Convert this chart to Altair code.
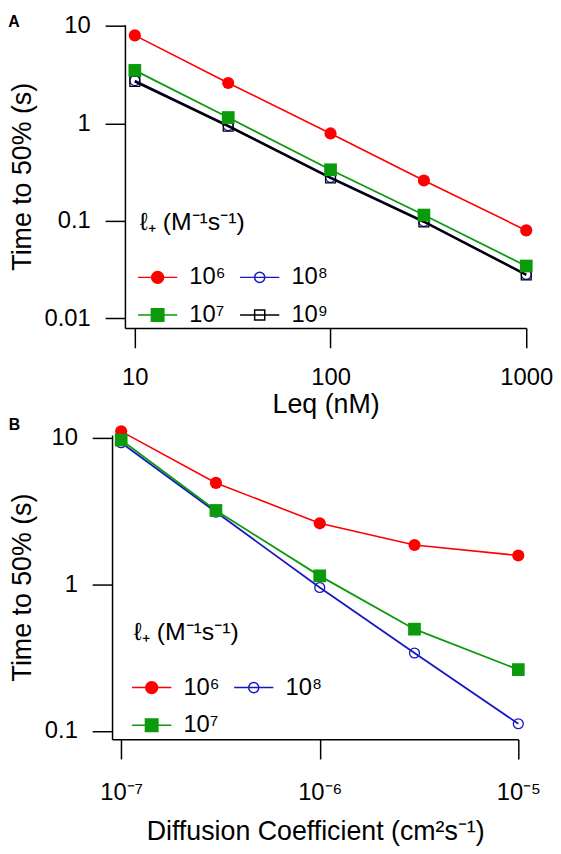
import altair as alt
import pandas as pd

FONT = "Liberation Sans"

# ---------------- series styling (by rate constant) ----------------
SERIES = ["10⁶", "10⁷", "10⁸", "10⁹"]
COLORS = ["#FF0000", "#0B9A0B", "#1717C4", "#000000"]
OPEN = [False, False, True, True]
SHAPES = ["circle", "square", "circle", "square"]
SIZES = [150, 165, 100, 100]
LINE_WIDTHS = [1.6, 1.8, 1.8, 2.4]
DRAW_ORDER = ["10⁶", "10⁸", "10⁹", "10⁷"]
LEGEND_TITLE = "ℓ₊ (M⁻¹s⁻¹)"

# ---------------- panel A data ----------------
A_LEQ = [10, 30, 100, 300, 1000]
A_T_E6 = [8.0, 2.6, 0.79, 0.26, 0.080]
A_T_E7 = [3.5, 1.15, 0.335, 0.115, 0.0345]
A_T_E8 = [2.75, 0.95, 0.28, 0.099, 0.0283]
A_T_E9 = [2.7, 0.94, 0.276, 0.098, 0.0280]
A_XTICKS = [10, 100, 1000]
A_YTICKS = [0.01, 0.1, 1, 10]
A_LEGEND_ORDER = ["10⁶", "10⁷", "10⁸", "10⁹"]

# ---------------- panel B data ----------------
B_D = [1e-7, 3e-7, 1e-6, 3e-6, 1e-5]
B_T_E6 = [11.0, 4.9, 2.6, 1.85, 1.57]
B_T_E7 = [9.6, 3.18, 1.14, 0.494, 0.262]
B_T_E8 = [9.2, 3.1, 0.95, 0.34, 0.112]
B_XTICKS = [1e-7, 1e-6, 1e-5]
B_XTICK_LABELS = ["10⁻⁷", "10⁻⁶", "10⁻⁵"]
B_YTICKS = [0.1, 1, 10]
B_LEGEND_ORDER = ["10⁶", "10⁷", "10⁸"]

# legend glyphs: marker with a line through it (unit-square coordinates)
LEGEND_PATHS = {
    "10⁶": "M-3.3,0H3.3M1,0A1,1 0 1,1 -1,0A1,1 0 1,1 1,0Z",
    "10⁷": "M-3.3,0H3.3M-1.05,-1.05H1.05V1.05H-1.05Z",
    "10⁸": "M-3.3,0H3.3M0.85,0A0.85,0.85 0 1,1 -0.85,0A0.85,0.85 0 1,1 0.85,0Z",
    "10⁹": "M-3.3,0H3.3M-0.85,-0.85H0.85V0.85H-0.85Z",
}


def make_df(xs, series_dict):
    rows = []
    for s, ys in series_dict.items():
        for x, y in zip(xs, ys):
            rows.append({"x": x, "t": y, "series": s})
    return pd.DataFrame(rows)


def panel(df, series_list, legend_order, X, Y, width, height, legend_x, legend_y,
          label, label_offset):
    layers = []
    for s in DRAW_ORDER:
        if s not in series_list:
            continue
        i = SERIES.index(s)
        base = alt.Chart(df).transform_filter(alt.datum.series == s)
        line = base.mark_line(color=COLORS[i], strokeWidth=LINE_WIDTHS[i], clip=False).encode(x=X, y=Y)
        if OPEN[i]:
            pts = base.mark_point(shape=SHAPES[i], size=SIZES[i], filled=False, color=COLORS[i],
                                  strokeWidth=1.3, opacity=1, clip=False).encode(x=X, y=Y)
        else:
            pts = base.mark_point(shape=SHAPES[i], size=SIZES[i], filled=True, color=COLORS[i],
                                  opacity=1, clip=False).encode(x=X, y=Y)
        layers += [line, pts]

    leg = alt.Legend(
        title=LEGEND_TITLE, orient="none", legendX=legend_x, legendY=legend_y, columns=2,
        titleFont=FONT, titleFontSize=25, titleFontWeight="normal", titleColor="black",
        labelFont=FONT, labelFontSize=24, labelColor="black",
        symbolSize=144, symbolStrokeWidth=1.5, symbolOffset=6, labelOffset=20,
        symbolOpacity=1, columnPadding=11, rowPadding=14, titlePadding=31, padding=0,
    )
    fills = [COLORS[SERIES.index(s)] if not OPEN[SERIES.index(s)] else "transparent" for s in legend_order]
    strokes = [COLORS[SERIES.index(s)] for s in legend_order]
    paths = [LEGEND_PATHS[s] for s in legend_order]
    legend_layer = alt.Chart(df).transform_filter("false").mark_point(filled=True, opacity=1).encode(
        x=X, y=Y,
        shape=alt.Shape("series:N", scale=alt.Scale(domain=legend_order, range=paths), legend=leg),
        fill=alt.Fill("series:N", scale=alt.Scale(domain=legend_order, range=fills), legend=leg),
        stroke=alt.Stroke("series:N", scale=alt.Scale(domain=legend_order, range=strokes), legend=leg),
    )
    layers.append(legend_layer)

    return alt.layer(*layers).properties(
        width=width, height=height,
        title=alt.TitleParams(text=label, anchor="start", frame="bounds", fontSize=16,
                              fontWeight="bold", font=FONT, color="black", offset=label_offset),
    )


def spacer():
    # empty zero-width cell: lets each panel's full left bounds (not its plot origin) line up
    return alt.Chart(pd.DataFrame({"a": [0]})).transform_filter("false").mark_point().encode(
        x=alt.value(0), y=alt.value(0)
    ).properties(width=0, height=0)


def row(p):
    return alt.hconcat(spacer(), p, spacing=-22).resolve_scale(
        shape="independent", fill="independent", stroke="independent"
    ).resolve_legend(shape="independent", fill="independent", stroke="independent")


# ---------------- panel A ----------------
dfA = make_df(A_LEQ, dict(zip(SERIES, [A_T_E6, A_T_E7, A_T_E8, A_T_E9])))
XA = alt.X("x:Q", scale=alt.Scale(type="log", domain=[8.9, 1000], nice=False),
           axis=alt.Axis(values=A_XTICKS, format="~g", labelPadding=18, titlePadding=2,
                         title="Leq (nM)"))
YA = alt.Y("t:Q", scale=alt.Scale(type="log", domain=[0.008, 10.3], nice=False),
           axis=alt.Axis(values=A_YTICKS, format="~g", labelPadding=15, titlePadding=8,
                         title="Time to 50% (s)"))
pA = panel(dfA, SERIES, A_LEGEND_ORDER, XA, YA, 405, 306, 15, 187, "A", -16)

# ---------------- panel B ----------------
dfB = make_df(B_D, dict(zip(SERIES[:3], [B_T_E6, B_T_E7, B_T_E8])))
expr = "'" + B_XTICK_LABELS[-1] + "'"
for v, lab in reversed(list(zip(B_XTICKS[:-1], B_XTICK_LABELS[:-1]))):
    expr = f"datum.value < {v * 3} ? '{lab}' : ({expr})"
XB = alt.X("x:Q", scale=alt.Scale(type="log", domain=[10 ** -7.046, 1e-5], nice=False),
           axis=alt.Axis(values=B_XTICKS, labelExpr=expr, labelPadding=22, titlePadding=14,
                         title="Diffusion Coefficient (cm²s⁻¹)"))
YB = alt.Y("t:Q", scale=alt.Scale(type="log", domain=[0.088, 10.4], nice=False),
           axis=alt.Axis(values=B_YTICKS, format="~g", labelPadding=15, titlePadding=8,
                         title="Time to 50% (s)"))
pB = panel(dfB, SERIES[:3], B_LEGEND_ORDER, XB, YB, 410, 307, 22, 187, "B", -8)

chart = alt.vconcat(row(pA), row(pB), spacing=0,
                    padding={"top": 2, "left": 0, "right": 0, "bottom": 0}).resolve_scale(
    shape="independent", fill="independent", stroke="independent"
).resolve_legend(
    shape="independent", fill="independent", stroke="independent"
).configure_view(
    stroke=None
).configure_axis(
    grid=False, domainColor="black", domainWidth=1.5, tickColor="black", tickWidth=1.5,
    tickSize=20, labelFont=FONT, labelFontSize=24, labelColor="black", titleFont=FONT,
    titleFontSize=27, titleFontWeight="normal", titleColor="black", labelFlush=False,
    labelOverlap=False,
)

chart.save("out.html", embed_options={"renderer": "svg", "actions": False})
